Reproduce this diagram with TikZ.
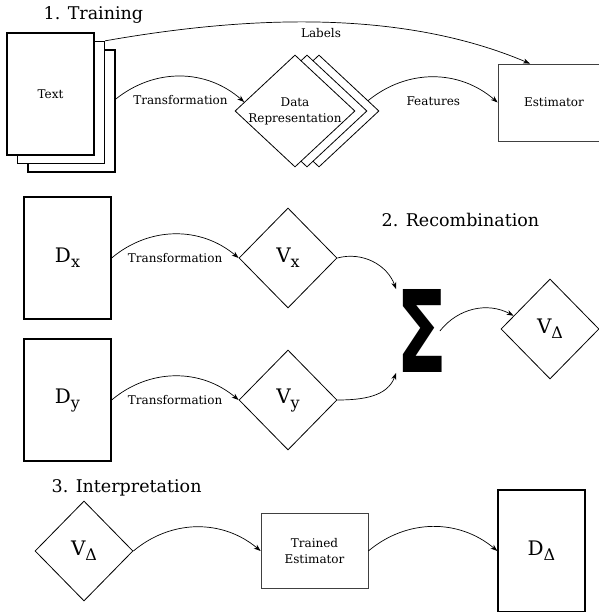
\documentclass[tikz,border=0pt]{standalone}
\usepackage{fontspec}
\setmainfont{DejaVu Serif}
\newfontfamily\sigmafont{DejaVu Sans}
\usetikzlibrary{shapes.geometric,positioning,arrows.meta}
\newcommand{\lowsub}[1]{\raisebox{-5pt}{\fontsize{16}{20}\selectfont #1}}

\begin{document}
\begin{tikzpicture}[%
x=1pt, y=1pt,
>={Stealth[length=7pt,width=5pt]},
on grid,
line width=0.7pt,
lbl/.style={font=\fontsize{12}{16}\selectfont},
head/.style={font=\fontsize{17.5}{20}\selectfont, anchor=base west},
doc/.style={rectangle, draw, fill=white, line width=1.3pt, minimum width=87pt, minimum height=122pt, font=\fontsize{20}{24}\selectfont},
vec/.style={diamond, draw, fill=white, line width=0.8pt, inner sep=0pt, minimum width=98pt, minimum height=100pt, font=\fontsize{20}{24}\selectfont},
repr/.style={diamond, draw, fill=white, line width=0.8pt, inner sep=0pt, minimum width=120pt, minimum height=112pt},
box/.style={rectangle, draw=black!75, fill=white, line width=0.7pt, align=center, lbl}
]
\useasboundingbox (0,0) rectangle (598,612);

% 1. Training
\node[head] (h1) at (40,592) {1. Training};
\node[doc] (text3) at (71.5,501) {};
\node[doc] (text2) [above left=8.5pt and 10.5pt of text3] {};
\node[doc, lbl] (text) [above left=8.5pt and 10.5pt of text2] {Text};
\node[repr] (dr3) at (319,501) {};
\node[repr] (dr2) [left=12pt of dr3] {};
\node[repr, label={[lbl, align=center]center:Data\\Representation}] (dr) [left=12pt of dr2] {};
\node[box, minimum width=112pt, minimum height=77pt] (est) at (554,509.5) {Estimator};
\path[->] (text3.15) edge[bend left=40] node[lbl, yshift=-24pt] {Transformation} (dr.170);
\path[->] (dr3.12) edge[bend left=40] node[lbl, yshift=-24pt] {Features} (est.west);
\path[->] (text2.north east) edge[out=10, in=157, looseness=0.85] node[lbl, yshift=-11pt] {Labels} ([xshift=-24pt]est.north);

% 2. Recombination
\node[head] (h2) at (378,385) {2. Recombination};
\node[doc] (dx) at (67.5,354) {D\lowsub{x}};
\node[vec] (vx) [right=220.5pt of dx] {V\lowsub{x}};
\node[doc] (dy) at (67.5,212) {D\lowsub{y}};
\node[vec] (vy) [right=220.5pt of dy] {V\lowsub{y}};
\node[inner sep=0pt] (sum) at (422,281) {\resizebox{51pt}{83pt}{\sigmafont\bfseries Σ}};
\node[vec] (vd) at (550,283) {V\lowsub{Δ}};
\path[->] (dx.east) edge[bend left=40] node[lbl, yshift=-24pt] {Transformation} (vx.west);
\path[->] (dy.east) edge[bend left=40] node[lbl, yshift=-24pt] {Transformation} (vy.west);
\path[->] (vx.east) edge[out=15, in=110] (sum.north west);
\path[->] (vy.east) edge[out=0, in=-110] (sum.south west);
\path[->] ([xshift=-8pt]sum.east) edge[bend left=40] (vd.160);

% 3. Interpretation
\node[head] (h3) at (48,119) {3. Interpretation};
\node[vec] (vd2) at (84,61) {V\lowsub{Δ}};
\node[box, minimum width=107pt, minimum height=75pt] (te) [right=230.5pt of vd2] {Trained\\Estimator};
\node[doc] (dd) [right=227pt of te] {D\lowsub{Δ}};
\path[->] (vd2.east) edge[bend left=40] (te.west);
\path[->] (te.east) edge[bend left=40] (dd.west);
\end{tikzpicture}
\end{document}
